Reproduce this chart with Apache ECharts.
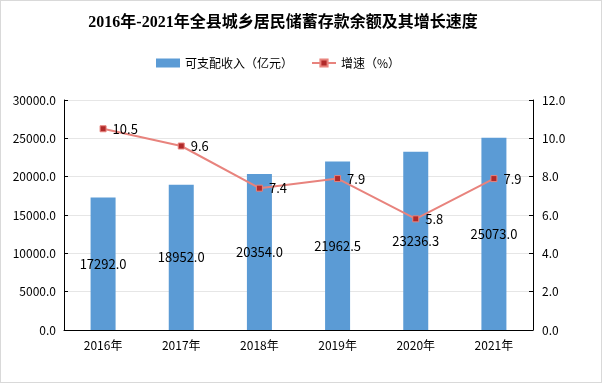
<!DOCTYPE html>
<html><head><meta charset="utf-8">
<script src="https://cdn.jsdelivr.net/npm/echarts@6/dist/echarts.min.js"></script>
<style>html,body{margin:0;padding:0;background:#fff}#c{width:600px;height:381px;border:1px solid #d9d9d9}</style>
</head><body><div id="c"></div>
<script>
const categories = ['2016年','2017年','2018年','2019年','2020年','2021年'];
const savings = [17292.0, 18952.0, 20354.0, 21962.5, 23236.3, 25073.0];
const growth = [10.5, 9.6, 7.4, 7.9, 5.8, 7.9];
const barName = '可支配收入（亿元）';
const lineName = '增速（%）';
const chart = echarts.init(document.getElementById('c'));
const font = "'Microsoft YaHei','Noto Sans CJK SC',sans-serif";
chart.setOption({
  animation:false,
  title:{text:'2016年-2021年全县城乡居民储蓄存款余额及其增长速度',left:277,textAlign:'center',top:9,
    textStyle:{fontFamily:"'Liberation Serif','Noto Sans CJK SC',serif",fontWeight:'bold',fontSize:16,color:'#000'}},
  legend:{top:51,left:150,itemGap:18,itemWidth:24,itemHeight:9,
    textStyle:{fontFamily:font,fontSize:12,color:'#000'},
    data:[{name:barName,icon:'rect'},{name:lineName}]},
  grid:{left:63,right:68,top:99,bottom:52},
  xAxis:{type:'category',data:categories,
    axisLine:{lineStyle:{color:'#000',width:1}},
    axisTick:{inside:true,length:5,lineStyle:{color:'#000'}},
    axisLabel:{color:'#000',fontFamily:font,fontSize:12,margin:9}},
  yAxis:[{type:'value',min:0,max:30000,interval:5000,
    axisLine:{show:true,lineStyle:{color:'#000'}},
    axisTick:{show:true,inside:true,length:4,lineStyle:{color:'#000'}},
    axisLabel:{color:'#000',fontFamily:font,fontSize:12,margin:8,formatter:v=>v.toFixed(1)},
    splitLine:{lineStyle:{color:'#e6e6e6'}}},
   {type:'value',min:0,max:12,interval:2,
    axisLine:{show:true,lineStyle:{color:'#000'}},
    axisTick:{show:true,inside:true,length:4,lineStyle:{color:'#000'}},
    axisLabel:{color:'#000',fontFamily:font,fontSize:12,margin:9,formatter:v=>v.toFixed(1)},
    splitLine:{show:false}}],
  series:[
    {name:barName,type:'bar',data:savings,barWidth:25,itemStyle:{color:'#5b9bd5'},
     label:{show:true,position:'inside',color:'#000',fontFamily:font,fontSize:13,formatter:p=>p.value.toFixed(1)}},
    {name:lineName,type:'line',yAxisIndex:1,data:growth,symbol:'rect',symbolSize:6,
     lineStyle:{color:'#e8837d',width:2},itemStyle:{color:'#b02a2a',borderColor:'#e8837d',borderWidth:1},
     label:{show:true,position:'right',distance:6,color:'#000',fontFamily:font,fontSize:13,formatter:p=>p.value.toFixed(1)}}
  ]
});
</script></body></html>
